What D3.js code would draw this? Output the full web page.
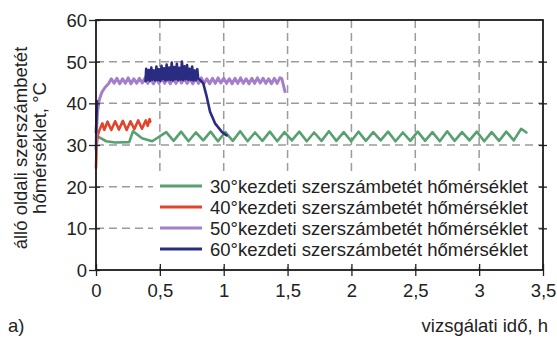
<!DOCTYPE html>
<html><head><meta charset="utf-8">
<script src="https://cdn.jsdelivr.net/npm/d3@7"></script>
<style>
html,body{margin:0;padding:0;background:#fff;}
svg{display:block;font-family:"Liberation Sans",Arial,Helvetica,sans-serif;}
</style></head>
<body><svg id="c" width="557" height="338"></svg>
<script>
// ---- data ----
const xTicks = [0, 0.5, 1, 1.5, 2, 2.5, 3, 3.5];
const xTickLabels = ["0", "0,5", "1", "1,5", "2", "2,5", "3", "3,5"];
const yTicks = [0, 10, 20, 30, 40, 50, 60];
const yTickLabels = ["0", "10", "20", "30", "40", "50", "60"];
const seriesNames = [
  "30°kezdeti szerszámbetét hőmérséklet",
  "40°kezdeti szerszámbetét hőmérséklet",
  "50°kezdeti szerszámbetét hőmérséklet",
  "60°kezdeti szerszámbetét hőmérséklet"
];
const xTitle = "vizsgálati idő, h";
const yTitle = ["álló oldali szerszámbetét", "hőmérséklet, °C"];
const panelLabel = "a)";

// 30° series: [time h, temperature °C]
const s30 = [
  [0.015,32.0],[0.04,31.6],[0.08,30.9],[0.15,30.6],[0.26,30.7],[0.29,33.3],[0.36,31.6],[0.44,30.9],
  [0.550,33.1],[0.608,31.0],[0.666,33.2],[0.724,30.9],[0.782,33.0],[0.840,31.1],[0.897,33.2],[0.955,30.9],
  [1.013,33.1],[1.071,31.0],[1.129,33.3],[1.187,30.9],[1.245,33.0],[1.303,31.0],[1.361,33.2],[1.419,30.9],
  [1.476,33.1],[1.534,31.1],[1.592,33.2],[1.650,30.9],[1.708,33.0],[1.766,31.0],[1.824,33.3],[1.882,31.0],
  [1.940,33.1],[1.998,30.9],[2.055,33.2],[2.113,31.0],[2.171,33.1],[2.229,31.1],[2.287,33.2],[2.345,30.9],
  [2.403,33.0],[2.461,31.0],[2.519,33.2],[2.577,31.0],[2.634,33.1],[2.692,30.9],[2.750,33.3],[2.808,31.0],
  [2.866,33.1],[2.924,31.1],[2.982,33.2],[3.040,30.9],[3.098,33.1],[3.156,31.0],[3.213,33.2],[3.271,31.1],
  [3.329,33.9],[3.37,33.0]
];
// 40° series
const s40 = [
  [0.0,24.5],[0.005,30.0],[0.015,32.5],[0.03,33.8],[0.05,35.2],[0.065,33.6],[0.09,35.6],[0.12,33.6],
  [0.15,35.7],[0.18,33.7],[0.21,35.8],[0.24,33.6],[0.27,35.7],[0.30,33.8],[0.33,35.9],[0.36,33.9],
  [0.39,35.9],[0.405,34.6],[0.42,36.2],[0.425,35.6]
];
// 50° series
const s50 = [
  [0.0,29.0],[0.005,34.0],[0.012,38.0],[0.025,40.8],[0.045,42.6],[0.07,43.8],[0.098,44.7],
  [0.120,45.9],[0.142,44.8],[0.164,46.0],[0.186,44.7],[0.208,45.9],[0.230,44.8],[0.252,46.1],[0.274,44.7],
  [0.296,45.9],[0.318,44.8],[0.340,46.0],[0.362,44.9],[0.384,46.1],[0.406,44.8],[0.428,45.9],[0.450,44.7],
  [0.472,46.0],[0.494,44.8],[0.516,46.1],[0.538,44.8],[0.560,45.9],[0.582,44.7],[0.604,46.0],[0.626,44.8],
  [0.648,46.1],[0.670,44.9],[0.692,46.0],[0.714,44.8],[0.736,45.9],[0.758,44.7],[0.780,46.0],[0.802,44.8],
  [0.824,46.1],[0.846,44.8],[0.868,45.9],[0.890,44.7],[0.912,46.0],[0.934,44.8],[0.956,46.1],[0.978,44.9],
  [1.000,46.0],[1.022,44.8],[1.044,45.9],[1.066,44.7],[1.088,46.0],[1.110,44.8],[1.132,46.1],[1.154,44.8],
  [1.176,45.9],[1.198,44.7],[1.220,46.0],[1.242,44.8],[1.264,46.1],[1.286,44.9],[1.308,46.0],[1.330,44.8],
  [1.352,45.9],[1.374,44.7],[1.396,46.0],[1.418,44.8],[1.440,46.1],[1.455,45.9],[1.48,42.8]
];
// 60° series (null = gap in the record)
const s60 = [
  [0.0,33.0],[0.004,37.0],[0.008,40.5],null,
  [0.388,45.3],[0.393,48.3],[0.403,45.6],[0.413,48.0],[0.423,45.4],[0.433,48.6],[0.443,45.7],[0.453,47.9],
  [0.463,45.5],[0.473,48.8],[0.483,45.6],[0.493,48.2],[0.503,45.4],[0.513,49.0],[0.523,45.8],[0.533,48.4],
  [0.543,45.5],[0.553,49.3],[0.563,45.7],[0.573,48.6],[0.583,45.6],[0.593,49.8],[0.603,45.5],[0.613,48.7],
  [0.623,45.8],[0.633,49.5],[0.643,45.6],[0.653,48.5],[0.663,45.7],[0.673,50.0],[0.683,45.6],[0.693,48.9],
  [0.703,45.8],[0.713,49.2],[0.723,45.7],[0.733,48.3],[0.743,45.6],[0.753,48.8],[0.763,45.5],[0.773,47.9],
  [0.783,45.6],[0.793,48.2],[0.800,46.0],[0.815,45.6],[0.84,44.8],[0.867,41.6],[0.893,38.0],[0.932,35.2],
  [0.984,33.2],[1.023,32.3]
];
const seriesData = [s30, s40, s50, s60];
const seriesColors = ["#58a06f", "#e2452c", "#a57fca", "#2a2c82"];

// ---- drawing ----
const svg = d3.select("#c");
const pL = 96, pR = 543, pT = 20, pB = 270;
const x = d3.scaleLinear().domain([0, 3.5]).range([pL, pR]);
const y = d3.scaleLinear().domain([0, 60]).range([pB, pT]);
const font = '"Liberation Sans",Arial,Helvetica,sans-serif';
const fs = 18.5;

// grid
const grid = svg.append("g").attr("stroke", "#9b9b9b").attr("stroke-width", 1.5).attr("stroke-dasharray", "8,5");
grid.selectAll("line.h").data(yTicks.filter(d => d > 0 && d < 60)).join("line")
  .attr("class", "h").attr("x1", pL).attr("x2", pR).attr("y1", d => y(d)).attr("y2", d => y(d));
grid.selectAll("line.v").data(xTicks.filter(d => d > 0 && d < 3.5)).join("line")
  .attr("class", "v").attr("y1", pT).attr("y2", pB).attr("x1", d => x(d)).attr("x2", d => x(d));

// legend background
const legX = 153, legY = 174, legW = 384, legH = 88;
svg.append("rect").attr("x", legX).attr("y", legY).attr("width", legW).attr("height", legH).attr("fill", "#fff");

// series
const line = d3.line().defined(d => d !== null).x(d => x(d[0])).y(d => y(d[1])).curve(d3.curveLinear);
seriesData.forEach((s, i) => {
  svg.append("path").datum(s).attr("d", line).attr("fill", "none")
    .attr("stroke", seriesColors[i]).attr("stroke-width", i === 2 ? 3 : 2.6)
    .attr("stroke-linejoin", "round").attr("stroke-linecap", "round");
});

// axes
const ax = svg.append("g").attr("font-family", font);
const la = ax.append("g").attr("transform", `translate(${pL},0)`)
  .call(d3.axisLeft(y).tickValues(yTicks).tickFormat((d, i) => yTickLabels[i]).tickSize(6).tickPadding(4));
la.selectAll(".tick line").attr("x2", -7).attr("x1", 4).attr("stroke", "#222").attr("stroke-width", 1.3);
const ra = ax.append("g").attr("transform", `translate(${pR},0)`)
  .call(d3.axisRight(y).tickValues(yTicks.filter(d => d > 0 && d < 60)).tickFormat(""));
ra.selectAll(".tick line").attr("x1", -4).attr("x2", 4).attr("stroke", "#222").attr("stroke-width", 1.3);
const ba = ax.append("g").attr("transform", `translate(0,${pB})`)
  .call(d3.axisBottom(x).tickValues(xTicks).tickFormat((d, i) => xTickLabels[i]).tickSize(6).tickPadding(6));
ba.selectAll(".tick line").attr("y1", -6).attr("y2", 6).attr("stroke", "#222").attr("stroke-width", 1.3);
[la, ra, ba].forEach(g => { g.select(".domain").remove(); });
ax.selectAll(".tick text").attr("font-size", fs).attr("fill", "#222").attr("font-family", font);
la.selectAll(".tick text").attr("x", -9).attr("dy", "0.35em");
ba.selectAll(".tick text").attr("y", 12).attr("dy", "0.8em");

// frame
svg.append("rect").attr("x", pL).attr("y", pT).attr("width", pR - pL).attr("height", pB - pT)
  .attr("fill", "none").attr("stroke", "#1a1a1a").attr("stroke-width", 1.8);

// legend entries
const leg = svg.append("g").attr("font-family", font).attr("font-size", fs).attr("fill", "#222");
seriesNames.forEach((n, i) => {
  const cy = 186 + i * 21;
  leg.append("line").attr("x1", 160).attr("x2", 202).attr("y1", cy).attr("y2", cy)
    .attr("stroke", seriesColors[i]).attr("stroke-width", 3);
  leg.append("text").attr("x", 210).attr("y", cy + 6.5).text(n);
});

// titles
svg.append("text").attr("x", 548).attr("y", 332).attr("text-anchor", "end").attr("font-family", font)
  .attr("font-size", fs).attr("fill", "#222").text(xTitle);
svg.append("text").attr("x", 8).attr("y", 332).attr("font-family", font)
  .attr("font-size", fs).attr("fill", "#222").text(panelLabel);
const yt = svg.append("text").attr("transform", "translate(0,148) rotate(-90)").attr("text-anchor", "middle")
  .attr("font-family", font).attr("font-size", fs).attr("fill", "#222");
yt.append("tspan").attr("x", 0).attr("y", 27).text(yTitle[0]);
yt.append("tspan").attr("x", 0).attr("y", 46).text(yTitle[1]);
</script></body></html>
